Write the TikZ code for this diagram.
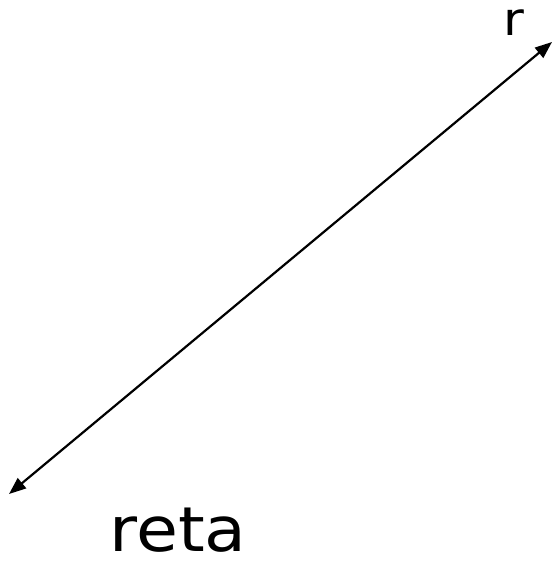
\documentclass[tikz,border=0pt]{standalone}
\usepackage{fontspec}
\setmainfont{DejaVu Sans}
\usetikzlibrary{arrows.meta}
\tikzset{
  lbl/.style={inner sep=0pt, anchor=base, text=black, text depth=0pt},
  ray/.style={line width=2.2pt, {Triangle[length=17pt,width=13pt]}-{Triangle[length=17pt,width=13pt]}}
}
\begin{document}
\begin{tikzpicture}[x=1pt,y=-1pt]
\useasboundingbox (0,0) rectangle (557,562);
\coordinate (a) at (9,494);
\coordinate (b) at (552,42);
\draw[ray] (a) -- (b);
\node[lbl, font=\fontsize{46}{46}\selectfont, xscale=1.1] (r) at (514,35) {r};
\node[lbl, font=\fontsize{62}{62}\selectfont, xscale=1.1] (reta) at (178,551) {reta};
\end{tikzpicture}
\end{document}
